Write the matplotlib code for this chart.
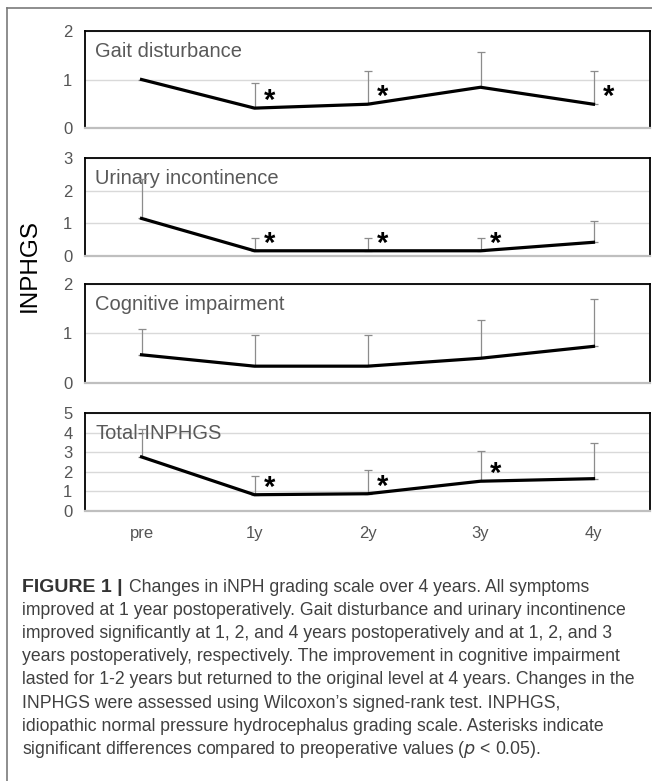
import numpy as np
import matplotlib
matplotlib.use("Agg")
import matplotlib.pyplot as plt
from matplotlib.lines import Line2D

plt.rcParams['font.family'] = ['Liberation Sans', 'DejaVu Sans']

timepoints = ["pre", "1y", "2y", "3y", "4y"]

gait_mean = [1.00, 0.41, 0.49, 0.84, 0.49]
gait_sd = [np.nan, 0.52, 0.68, 0.72, 0.68]
gait_sig = [1, 2, 4]

urinary_mean = [1.15, 0.16, 0.16, 0.16, 0.42]
urinary_sd = [1.22, 0.38, 0.38, 0.38, 0.66]
urinary_sig = [1, 2, 3]

cognitive_mean = [0.57, 0.34, 0.34, 0.50, 0.74]
cognitive_sd = [0.52, 0.63, 0.63, 0.78, 0.96]
cognitive_sig = []

total_mean = [2.76, 0.83, 0.88, 1.52, 1.65]
total_sd = [1.41, 0.94, 1.20, 1.54, 1.84]
total_sig = [1, 2, 3]

panel_titles = ["Gait disturbance", "Urinary incontinence",
                "Cognitive impairment", "Total-INPHGS"]
panel_ymax = [2, 3, 2, 5]

caption = [
    "Changes in iNPH grading scale over 4 years. All symptoms",
    "improved at 1 year postoperatively. Gait disturbance and urinary incontinence",
    "improved significantly at 1, 2, and 4 years postoperatively and at 1, 2, and 3",
    "years postoperatively, respectively. The improvement in cognitive impairment",
    "lasted for 1-2 years but returned to the original level at 4 years. Changes in the",
    "INPHGS were assessed using Wilcoxon\u2019s signed-rank test. INPHGS,",
    "idiopathic normal pressure hydrocephalus grading scale. Asterisks indicate",
    "significant differences compared to preoperative values ($\\it{p}$ < 0.05).",
]

means = [gait_mean, urinary_mean, cognitive_mean, total_mean]
sds = [gait_sd, urinary_sd, cognitive_sd, total_sd]
sigs = [gait_sig, urinary_sig, cognitive_sig, total_sig]

W, H = 652, 781
fig = plt.figure(figsize=(W / 100, H / 100), dpi=100)

# panel boxes in pixels: (top, bottom)
boxes = [(31, 128), (158, 256), (284, 383), (413, 511)]
left_px, right_px = 85, 650

x = np.arange(len(timepoints))
for k, (top, bot) in enumerate(boxes):
    ax = fig.add_axes([left_px / W, 1 - bot / H, (right_px - left_px) / W, (bot - top) / H])
    m = np.array(means[k], dtype=float)
    s = np.array(sds[k], dtype=float)
    ax.errorbar(x, m, yerr=[np.zeros_like(s), s], fmt='none', ecolor='#8c8c8c',
                elinewidth=0.9, capsize=2.6, capthick=0.9, zorder=2)
    ax.plot(x, m, color='black', lw=2.3, solid_joinstyle='miter', zorder=3)
    for i in sigs[k]:
        ax.annotate('*', xy=(i, m[i]), xytext=(11, 5), textcoords='offset points',
                    fontsize=21, fontweight='bold', ha='center', va='center', zorder=4)
    ax.set_xlim(-0.5, len(timepoints) - 0.5)
    ax.set_ylim(0, panel_ymax[k])
    ax.set_yticks(range(panel_ymax[k] + 1))
    ax.yaxis.grid(True, color='#d9d9d9', lw=1.0)
    ax.set_axisbelow(True)
    ax.tick_params(axis='y', length=0, pad=9, labelsize=12, labelcolor='#555555')
    ax.tick_params(axis='x', length=0)
    for side in ['top', 'left', 'right']:
        ax.spines[side].set_color('black')
        ax.spines[side].set_linewidth(1.3)
    ax.spines['bottom'].set_color('#bfbfbf')
    ax.spines['bottom'].set_linewidth(1.6)
    ax.text(0.018, 0.79, panel_titles[k], transform=ax.transAxes, fontsize=14.5,
            color='#595959', ha='left', va='center', zorder=1)
    if k < 3:
        ax.set_xticks([])
    else:
        ax.set_xticks(x)
        ax.set_xticklabels(timepoints)
        ax.tick_params(axis='x', pad=11, labelsize=12, labelcolor='#555555')

fig.text(30 / W, 1 - 266 / H, "INPHGS", rotation=90, fontsize=17.5,
         ha='center', va='center', color='black')

# caption under the panels
cap_x = 22 / W
y0 = 587
cap_size = 12.7
head = fig.text(cap_x, 1 - y0 / H, "FIGURE 1 |", fontsize=14, fontweight='bold',
                color='#333333', ha='left', va='center')
renderer = fig.canvas.get_renderer()
head_w = head.get_window_extent(renderer).width
fig.text(cap_x + (head_w + 6) / W, 1 - y0 / H, caption[0], fontsize=cap_size,
         color='#404040', ha='left', va='center')
for j, line in enumerate(caption[1:], start=1):
    fig.text(cap_x, 1 - (y0 + 23.2 * j) / H, line, fontsize=cap_size,
             color='#404040', ha='left', va='center')

# thin frame on the left and top edges
fig.add_artist(Line2D([7 / W, 7 / W], [0, 1 - 8 / H], transform=fig.transFigure,
                      color='#7a7a7a', lw=1.2))
fig.add_artist(Line2D([7 / W, 1], [1 - 8 / H, 1 - 8 / H], transform=fig.transFigure,
                      color='#7a7a7a', lw=1.2))

fig.savefig("out.png", dpi=100)
